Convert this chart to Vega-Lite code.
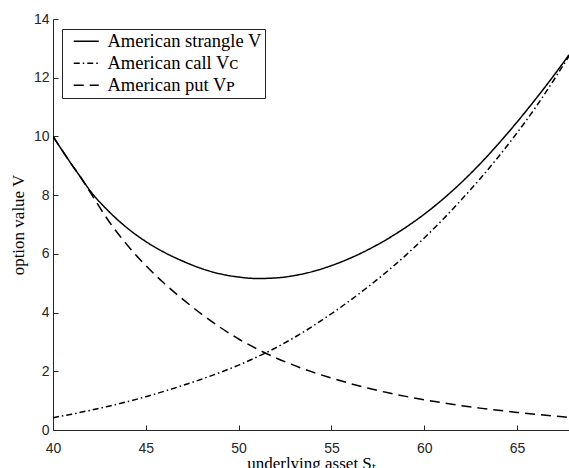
{
  "$schema": "https://vega.github.io/schema/vega-lite/v6.json",
  "width": 516,
  "height": 411,
  "autosize": "none",
  "padding": {"left": 53, "top": 19, "right": 0, "bottom": 38},
  "background": "white",
  "config": {
    "view": {"stroke": null},
    "axis": {
      "grid": false,
      "domainColor": "#262626",
      "domainWidth": 1,
      "tickColor": "#262626",
      "tickSize": -5,
      "labelColor": "#262626",
      "labelFont": "Liberation Sans",
      "labelFontSize": 14,
      "titleFont": "Liberation Serif",
      "titleFontSize": 17,
      "titleFontWeight": "normal",
      "titleColor": "black"
    }
  },
  "datasets": {
    "curves": [
      {"S": 40, "V": 10.0, "series": "American strangle V"},
      {"S": 41, "V": 9.05, "series": "American strangle V"},
      {"S": 41.5, "V": 8.6, "series": "American strangle V"},
      {"S": 42, "V": 8.15, "series": "American strangle V"},
      {"S": 43, "V": 7.45, "series": "American strangle V"},
      {"S": 44, "V": 6.88, "series": "American strangle V"},
      {"S": 45, "V": 6.42, "series": "American strangle V"},
      {"S": 46, "V": 6.05, "series": "American strangle V"},
      {"S": 47, "V": 5.75, "series": "American strangle V"},
      {"S": 48, "V": 5.5, "series": "American strangle V"},
      {"S": 49, "V": 5.32, "series": "American strangle V"},
      {"S": 50, "V": 5.21, "series": "American strangle V"},
      {"S": 51, "V": 5.16, "series": "American strangle V"},
      {"S": 52, "V": 5.18, "series": "American strangle V"},
      {"S": 53, "V": 5.26, "series": "American strangle V"},
      {"S": 54, "V": 5.4, "series": "American strangle V"},
      {"S": 55, "V": 5.6, "series": "American strangle V"},
      {"S": 56, "V": 5.85, "series": "American strangle V"},
      {"S": 57, "V": 6.15, "series": "American strangle V"},
      {"S": 58, "V": 6.5, "series": "American strangle V"},
      {"S": 59, "V": 6.9, "series": "American strangle V"},
      {"S": 60, "V": 7.35, "series": "American strangle V"},
      {"S": 61, "V": 7.86, "series": "American strangle V"},
      {"S": 62, "V": 8.43, "series": "American strangle V"},
      {"S": 63, "V": 9.06, "series": "American strangle V"},
      {"S": 64, "V": 9.75, "series": "American strangle V"},
      {"S": 65, "V": 10.49, "series": "American strangle V"},
      {"S": 66, "V": 11.27, "series": "American strangle V"},
      {"S": 67, "V": 12.09, "series": "American strangle V"},
      {"S": 67.8, "V": 12.78, "series": "American strangle V"},

      {"S": 40, "V": 0.42, "series": "American call Vᴄ"},
      {"S": 41, "V": 0.54, "series": "American call Vᴄ"},
      {"S": 42, "V": 0.67, "series": "American call Vᴄ"},
      {"S": 43, "V": 0.81, "series": "American call Vᴄ"},
      {"S": 44, "V": 0.965, "series": "American call Vᴄ"},
      {"S": 45, "V": 1.135, "series": "American call Vᴄ"},
      {"S": 46, "V": 1.32, "series": "American call Vᴄ"},
      {"S": 47, "V": 1.52, "series": "American call Vᴄ"},
      {"S": 48, "V": 1.73, "series": "American call Vᴄ"},
      {"S": 49, "V": 1.96, "series": "American call Vᴄ"},
      {"S": 50, "V": 2.21, "series": "American call Vᴄ"},
      {"S": 51, "V": 2.49, "series": "American call Vᴄ"},
      {"S": 52, "V": 2.8, "series": "American call Vᴄ"},
      {"S": 53, "V": 3.15, "series": "American call Vᴄ"},
      {"S": 54, "V": 3.54, "series": "American call Vᴄ"},
      {"S": 55, "V": 3.96, "series": "American call Vᴄ"},
      {"S": 56, "V": 4.41, "series": "American call Vᴄ"},
      {"S": 57, "V": 4.89, "series": "American call Vᴄ"},
      {"S": 58, "V": 5.4, "series": "American call Vᴄ"},
      {"S": 59, "V": 5.95, "series": "American call Vᴄ"},
      {"S": 60, "V": 6.54, "series": "American call Vᴄ"},
      {"S": 61, "V": 7.17, "series": "American call Vᴄ"},
      {"S": 62, "V": 7.84, "series": "American call Vᴄ"},
      {"S": 63, "V": 8.55, "series": "American call Vᴄ"},
      {"S": 64, "V": 9.31, "series": "American call Vᴄ"},
      {"S": 65, "V": 10.12, "series": "American call Vᴄ"},
      {"S": 66, "V": 10.99, "series": "American call Vᴄ"},
      {"S": 67, "V": 11.94, "series": "American call Vᴄ"},
      {"S": 67.8, "V": 12.74, "series": "American call Vᴄ"},

      {"S": 40, "V": 10.0, "series": "American put Vᴘ"},
      {"S": 41, "V": 9.05, "series": "American put Vᴘ"},
      {"S": 41.5, "V": 8.6, "series": "American put Vᴘ"},
      {"S": 42, "V": 8.1, "series": "American put Vᴘ"},
      {"S": 43, "V": 7.12, "series": "American put Vᴘ"},
      {"S": 44, "V": 6.3, "series": "American put Vᴘ"},
      {"S": 45, "V": 5.6, "series": "American put Vᴘ"},
      {"S": 46, "V": 4.99, "series": "American put Vᴘ"},
      {"S": 47, "V": 4.45, "series": "American put Vᴘ"},
      {"S": 48, "V": 3.95, "series": "American put Vᴘ"},
      {"S": 49, "V": 3.5, "series": "American put Vᴘ"},
      {"S": 50, "V": 3.1, "series": "American put Vᴘ"},
      {"S": 51, "V": 2.76, "series": "American put Vᴘ"},
      {"S": 52, "V": 2.46, "series": "American put Vᴘ"},
      {"S": 53, "V": 2.2, "series": "American put Vᴘ"},
      {"S": 54, "V": 1.97, "series": "American put Vᴘ"},
      {"S": 55, "V": 1.77, "series": "American put Vᴘ"},
      {"S": 56, "V": 1.585, "series": "American put Vᴘ"},
      {"S": 57, "V": 1.42, "series": "American put Vᴘ"},
      {"S": 58, "V": 1.275, "series": "American put Vᴘ"},
      {"S": 59, "V": 1.145, "series": "American put Vᴘ"},
      {"S": 60, "V": 1.03, "series": "American put Vᴘ"},
      {"S": 61, "V": 0.925, "series": "American put Vᴘ"},
      {"S": 62, "V": 0.83, "series": "American put Vᴘ"},
      {"S": 63, "V": 0.745, "series": "American put Vᴘ"},
      {"S": 64, "V": 0.67, "series": "American put Vᴘ"},
      {"S": 65, "V": 0.6, "series": "American put Vᴘ"},
      {"S": 66, "V": 0.535, "series": "American put Vᴘ"},
      {"S": 67, "V": 0.475, "series": "American put Vᴘ"},
      {"S": 67.8, "V": 0.43, "series": "American put Vᴘ"}
    ]
  },
  "data": {"name": "curves"},
  "mark": {"type": "line", "color": "black", "strokeWidth": 1.5, "interpolate": "monotone", "clip": true},
  "encoding": {
    "x": {
      "field": "S", "type": "quantitative",
      "scale": {"domain": [40, 67.8], "nice": false, "zero": false},
      "axis": {"values": [40, 45, 50, 55, 60, 65], "title": "underlying asset Sₜ", "labelPadding": 16, "titlePadding": 0, "labelFlush": false}
    },
    "y": {
      "field": "V", "type": "quantitative",
      "scale": {"domain": [0, 14], "nice": false},
      "axis": {"values": [0, 2, 4, 6, 8, 10, 12, 14], "title": "option value V", "labelPadding": 9, "titlePadding": 6, "labelFlush": false}
    },
    "strokeDash": {
      "field": "series", "type": "nominal",
      "scale": {
        "domain": ["American strangle V", "American call Vᴄ", "American put Vᴘ"],
        "range": [[1, 0], [6, 3, 1.5, 3], [10, 6]]
      },
      "legend": {
        "title": null,
        "orient": "none",
        "legendX": 9,
        "legendY": 10,
        "symbolType": "M-2.5,0H2.5",
        "symbolSize": 100,
        "symbolOffset": 12,
        "symbolStrokeWidth": 1.5,
        "symbolStrokeColor": "black",
        "labelFont": "Liberation Serif",
        "labelFontSize": 18.5,
        "labelColor": "black",
        "labelLimit": 400,
        "labelOffset": 12,
        "rowPadding": 3,
        "strokeColor": "#262626",
        "fillColor": "white",
        "padding": 3
      }
    }
  }
}
